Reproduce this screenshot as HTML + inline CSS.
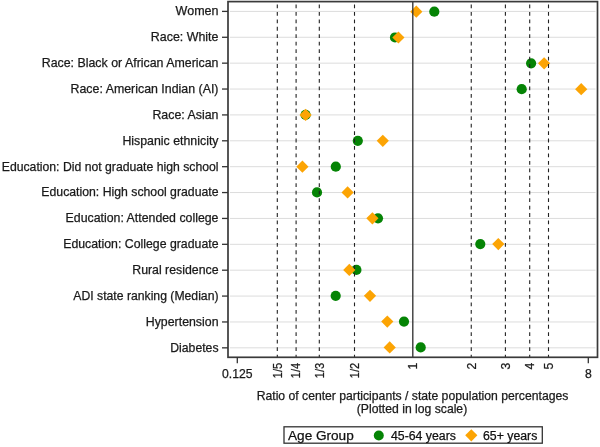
<!DOCTYPE html><html><head><meta charset="utf-8"><style>html,body{margin:0;padding:0;background:#fff;}svg{display:block;will-change:transform;}text{font-family:"Liberation Sans",sans-serif;stroke:currentColor;stroke-width:0.25px;}</style></head><body>
<svg width="600" height="447" viewBox="0 0 600 447">
<rect x="0" y="0" width="600" height="447" fill="#fff"/>
<line x1="230" x2="595.5" y1="11.40" y2="11.40" stroke="#dcdcdc" stroke-width="1"/>
<line x1="230" x2="595.5" y1="37.28" y2="37.28" stroke="#dcdcdc" stroke-width="1"/>
<line x1="230" x2="595.5" y1="63.16" y2="63.16" stroke="#dcdcdc" stroke-width="1"/>
<line x1="230" x2="595.5" y1="89.04" y2="89.04" stroke="#dcdcdc" stroke-width="1"/>
<line x1="230" x2="595.5" y1="114.92" y2="114.92" stroke="#dcdcdc" stroke-width="1"/>
<line x1="230" x2="595.5" y1="140.80" y2="140.80" stroke="#dcdcdc" stroke-width="1"/>
<line x1="230" x2="595.5" y1="166.68" y2="166.68" stroke="#dcdcdc" stroke-width="1"/>
<line x1="230" x2="595.5" y1="192.56" y2="192.56" stroke="#dcdcdc" stroke-width="1"/>
<line x1="230" x2="595.5" y1="218.44" y2="218.44" stroke="#dcdcdc" stroke-width="1"/>
<line x1="230" x2="595.5" y1="244.32" y2="244.32" stroke="#dcdcdc" stroke-width="1"/>
<line x1="230" x2="595.5" y1="270.20" y2="270.20" stroke="#dcdcdc" stroke-width="1"/>
<line x1="230" x2="595.5" y1="296.08" y2="296.08" stroke="#dcdcdc" stroke-width="1"/>
<line x1="230" x2="595.5" y1="321.96" y2="321.96" stroke="#dcdcdc" stroke-width="1"/>
<line x1="230" x2="595.5" y1="347.84" y2="347.84" stroke="#dcdcdc" stroke-width="1"/>
<circle cx="434.3" cy="11.65" r="5.1" fill="#058405"/>
<path d="M410.20 11.65L416.30 5.55L422.40 11.65L416.30 17.75Z" fill="#fca404"/>
<circle cx="395.0" cy="37.48" r="5.1" fill="#058405"/>
<path d="M392.30 37.48L398.40 31.38L404.50 37.48L398.40 43.58Z" fill="#fca404"/>
<circle cx="531.1" cy="63.31" r="5.1" fill="#058405"/>
<path d="M538.00 63.31L544.10 57.21L550.20 63.31L544.10 69.41Z" fill="#fca404"/>
<circle cx="521.7" cy="89.14" r="5.1" fill="#058405"/>
<path d="M575.10 89.14L581.20 83.04L587.30 89.14L581.20 95.24Z" fill="#fca404"/>
<circle cx="305.6" cy="114.97" r="5.1" fill="#058405"/>
<path d="M299.50 114.97L305.60 108.87L311.70 114.97L305.60 121.07Z" fill="#fca404"/>
<circle cx="357.8" cy="140.80" r="5.1" fill="#058405"/>
<path d="M376.70 140.80L382.80 134.70L388.90 140.80L382.80 146.90Z" fill="#fca404"/>
<circle cx="335.8" cy="166.63" r="5.1" fill="#058405"/>
<path d="M296.30 166.63L302.40 160.53L308.50 166.63L302.40 172.73Z" fill="#fca404"/>
<circle cx="317.0" cy="192.46" r="5.1" fill="#058405"/>
<path d="M341.50 192.46L347.60 186.36L353.70 192.46L347.60 198.56Z" fill="#fca404"/>
<circle cx="378.0" cy="218.29" r="5.1" fill="#058405"/>
<path d="M366.30 218.29L372.40 212.19L378.50 218.29L372.40 224.39Z" fill="#fca404"/>
<circle cx="480.3" cy="244.12" r="5.1" fill="#058405"/>
<path d="M492.20 244.12L498.30 238.02L504.40 244.12L498.30 250.22Z" fill="#fca404"/>
<circle cx="356.4" cy="269.95" r="5.1" fill="#058405"/>
<path d="M343.20 269.95L349.30 263.85L355.40 269.95L349.30 276.05Z" fill="#fca404"/>
<circle cx="335.7" cy="295.78" r="5.1" fill="#058405"/>
<path d="M363.90 295.78L370.00 289.68L376.10 295.78L370.00 301.88Z" fill="#fca404"/>
<circle cx="404.0" cy="321.61" r="5.1" fill="#058405"/>
<path d="M381.20 321.61L387.30 315.51L393.40 321.61L387.30 327.71Z" fill="#fca404"/>
<circle cx="420.7" cy="347.44" r="5.1" fill="#058405"/>
<path d="M383.60 347.44L389.70 341.34L395.80 347.44L389.70 353.54Z" fill="#fca404"/>
<line x1="277.30" x2="277.30" y1="1.6" y2="357.3" stroke="#222" stroke-width="1.1" stroke-dasharray="3.8 3.65" stroke-dashoffset="-2.9"/>
<line x1="296.10" x2="296.10" y1="1.6" y2="357.3" stroke="#222" stroke-width="1.1" stroke-dasharray="3.8 3.65" stroke-dashoffset="-2.9"/>
<line x1="319.30" x2="319.30" y1="1.6" y2="357.3" stroke="#222" stroke-width="1.1" stroke-dasharray="3.8 3.65" stroke-dashoffset="-2.9"/>
<line x1="354.50" x2="354.50" y1="1.6" y2="357.3" stroke="#222" stroke-width="1.1" stroke-dasharray="3.8 3.65" stroke-dashoffset="-2.9"/>
<line x1="471.25" x2="471.25" y1="1.6" y2="357.3" stroke="#222" stroke-width="1.1" stroke-dasharray="3.8 3.65" stroke-dashoffset="-2.9"/>
<line x1="505.40" x2="505.40" y1="1.6" y2="357.3" stroke="#222" stroke-width="1.1" stroke-dasharray="3.8 3.65" stroke-dashoffset="-2.9"/>
<line x1="529.70" x2="529.70" y1="1.6" y2="357.3" stroke="#222" stroke-width="1.1" stroke-dasharray="3.8 3.65" stroke-dashoffset="-2.9"/>
<line x1="548.50" x2="548.50" y1="1.6" y2="357.3" stroke="#222" stroke-width="1.1" stroke-dasharray="3.8 3.65" stroke-dashoffset="-2.9"/>
<line x1="412.8" x2="412.8" y1="1.6" y2="357.3" stroke="#333" stroke-width="1.35"/>
<rect x="228" y="1.6" width="369.5" height="355.7" fill="none" stroke="#3a3a3a" stroke-width="1.7"/>
<line x1="222" x2="228" y1="11.40" y2="11.40" stroke="#333" stroke-width="1.3"/>
<text x="218.5" y="15.30" font-size="12.2" text-anchor="end" textLength="42.88" lengthAdjust="spacingAndGlyphs" fill="#1a1a1a" color="#1a1a1a">Women</text>
<line x1="222" x2="228" y1="37.28" y2="37.28" stroke="#333" stroke-width="1.3"/>
<text x="218.5" y="41.18" font-size="12.2" text-anchor="end" textLength="67.69" lengthAdjust="spacingAndGlyphs" fill="#1a1a1a" color="#1a1a1a">Race: White</text>
<line x1="222" x2="228" y1="63.16" y2="63.16" stroke="#333" stroke-width="1.3"/>
<text x="218.5" y="67.06" font-size="12.2" text-anchor="end" textLength="176.79" lengthAdjust="spacingAndGlyphs" fill="#1a1a1a" color="#1a1a1a">Race: Black or African American</text>
<line x1="222" x2="228" y1="89.04" y2="89.04" stroke="#333" stroke-width="1.3"/>
<text x="218.5" y="92.94" font-size="12.2" text-anchor="end" textLength="147.94" lengthAdjust="spacingAndGlyphs" fill="#1a1a1a" color="#1a1a1a">Race: American Indian (AI)</text>
<line x1="222" x2="228" y1="114.92" y2="114.92" stroke="#333" stroke-width="1.3"/>
<text x="218.5" y="118.82" font-size="12.2" text-anchor="end" textLength="66.05" lengthAdjust="spacingAndGlyphs" fill="#1a1a1a" color="#1a1a1a">Race: Asian</text>
<line x1="222" x2="228" y1="140.80" y2="140.80" stroke="#333" stroke-width="1.3"/>
<text x="218.5" y="144.70" font-size="12.2" text-anchor="end" textLength="96.09" lengthAdjust="spacingAndGlyphs" fill="#1a1a1a" color="#1a1a1a">Hispanic ethnicity</text>
<line x1="222" x2="228" y1="166.68" y2="166.68" stroke="#333" stroke-width="1.3"/>
<text x="218.5" y="170.58" font-size="12.2" text-anchor="end" textLength="216.74" lengthAdjust="spacingAndGlyphs" fill="#1a1a1a" color="#1a1a1a">Education: Did not graduate high school</text>
<line x1="222" x2="228" y1="192.56" y2="192.56" stroke="#333" stroke-width="1.3"/>
<text x="218.5" y="196.46" font-size="12.2" text-anchor="end" textLength="177.17" lengthAdjust="spacingAndGlyphs" fill="#1a1a1a" color="#1a1a1a">Education: High school graduate</text>
<line x1="222" x2="228" y1="218.44" y2="218.44" stroke="#333" stroke-width="1.3"/>
<text x="218.5" y="222.34" font-size="12.2" text-anchor="end" textLength="152.91" lengthAdjust="spacingAndGlyphs" fill="#1a1a1a" color="#1a1a1a">Education: Attended college</text>
<line x1="222" x2="228" y1="244.32" y2="244.32" stroke="#333" stroke-width="1.3"/>
<text x="218.5" y="248.22" font-size="12.2" text-anchor="end" textLength="155.26" lengthAdjust="spacingAndGlyphs" fill="#1a1a1a" color="#1a1a1a">Education: College graduate</text>
<line x1="222" x2="228" y1="270.20" y2="270.20" stroke="#333" stroke-width="1.3"/>
<text x="218.5" y="274.10" font-size="12.2" text-anchor="end" textLength="86.26" lengthAdjust="spacingAndGlyphs" fill="#1a1a1a" color="#1a1a1a">Rural residence</text>
<line x1="222" x2="228" y1="296.08" y2="296.08" stroke="#333" stroke-width="1.3"/>
<text x="218.5" y="299.98" font-size="12.2" text-anchor="end" textLength="145.17" lengthAdjust="spacingAndGlyphs" fill="#1a1a1a" color="#1a1a1a">ADI state ranking (Median)</text>
<line x1="222" x2="228" y1="321.96" y2="321.96" stroke="#333" stroke-width="1.3"/>
<text x="218.5" y="325.86" font-size="12.2" text-anchor="end" textLength="72.71" lengthAdjust="spacingAndGlyphs" fill="#1a1a1a" color="#1a1a1a">Hypertension</text>
<line x1="222" x2="228" y1="347.84" y2="347.84" stroke="#333" stroke-width="1.3"/>
<text x="218.5" y="351.74" font-size="12.2" text-anchor="end" textLength="48.21" lengthAdjust="spacingAndGlyphs" fill="#1a1a1a" color="#1a1a1a">Diabetes</text>
<line x1="237.30" x2="237.30" y1="357.3" y2="363.3" stroke="#333" stroke-width="1.3"/>
<text x="237.30" y="378.20" font-size="12.2" text-anchor="middle" fill="#1a1a1a" color="#1a1a1a">0.125</text>
<line x1="588.30" x2="588.30" y1="357.3" y2="363.3" stroke="#333" stroke-width="1.3"/>
<text x="588.30" y="378.20" font-size="12.2" text-anchor="middle" fill="#1a1a1a" color="#1a1a1a">8</text>
<text transform="translate(281.60,362.80) rotate(-90)" font-size="12.2" text-anchor="end" textLength="15.4" lengthAdjust="spacingAndGlyphs" fill="#1a1a1a" color="#1a1a1a">1/5</text>
<text transform="translate(300.40,362.80) rotate(-90)" font-size="12.2" text-anchor="end" textLength="15.4" lengthAdjust="spacingAndGlyphs" fill="#1a1a1a" color="#1a1a1a">1/4</text>
<text transform="translate(323.60,362.80) rotate(-90)" font-size="12.2" text-anchor="end" textLength="15.4" lengthAdjust="spacingAndGlyphs" fill="#1a1a1a" color="#1a1a1a">1/3</text>
<text transform="translate(358.80,362.80) rotate(-90)" font-size="12.2" text-anchor="end" textLength="15.4" lengthAdjust="spacingAndGlyphs" fill="#1a1a1a" color="#1a1a1a">1/2</text>
<text transform="translate(417.10,362.80) rotate(-90)" font-size="12.2" text-anchor="end" fill="#1a1a1a" color="#1a1a1a">1</text>
<text transform="translate(475.55,362.80) rotate(-90)" font-size="12.2" text-anchor="end" fill="#1a1a1a" color="#1a1a1a">2</text>
<text transform="translate(509.70,362.80) rotate(-90)" font-size="12.2" text-anchor="end" fill="#1a1a1a" color="#1a1a1a">3</text>
<text transform="translate(534.00,362.80) rotate(-90)" font-size="12.2" text-anchor="end" fill="#1a1a1a" color="#1a1a1a">4</text>
<text transform="translate(552.80,362.80) rotate(-90)" font-size="12.2" text-anchor="end" fill="#1a1a1a" color="#1a1a1a">5</text>
<text x="412.5" y="400" font-size="12.2" text-anchor="middle" fill="#1a1a1a" color="#1a1a1a">Ratio of center participants / state population percentages</text>
<text x="412" y="413.2" font-size="12.2" text-anchor="middle" fill="#1a1a1a" color="#1a1a1a">(Plotted in log scale)</text>
<rect x="284" y="426.8" width="258.3" height="16.4" fill="#fff" stroke="#333" stroke-width="1.3"/>
<text x="288" y="440.2" font-size="13.6" fill="#111" color="#111">Age Group</text>
<circle cx="378.8" cy="435.5" r="5" fill="#058405"/>
<text x="391" y="440" font-size="12.3" fill="#111" color="#111">45-64 years</text>
<path d="M465.20 435.30L471.30 429.20L477.40 435.30L471.30 441.40Z" fill="#fca404"/>
<text x="483" y="440" font-size="12.3" fill="#111" color="#111">65+ years</text>
</svg></body></html>
